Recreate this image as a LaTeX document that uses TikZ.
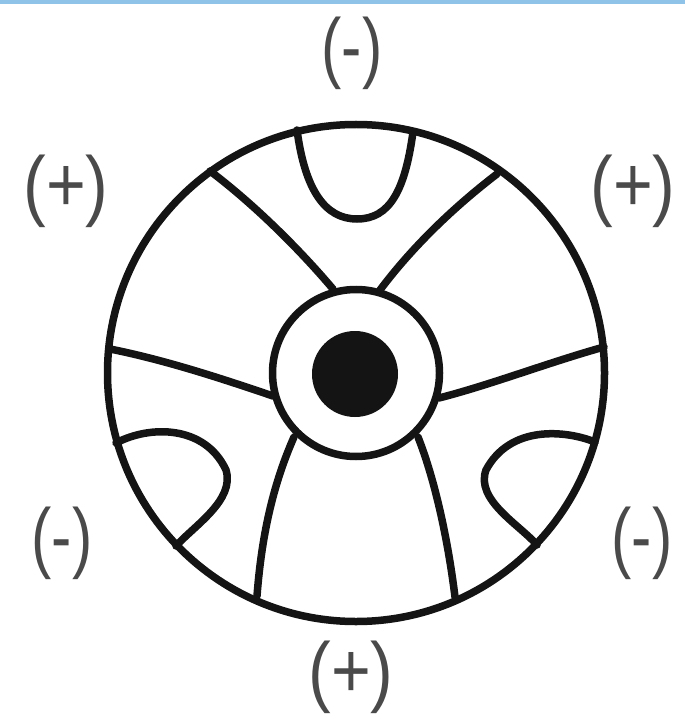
\documentclass[tikz,border=0pt]{standalone}
\usepackage{fontspec}
\setmainfont{Liberation Sans}
\usepackage{xcolor}
\usetikzlibrary{calc,positioning}
\definecolor{strip}{HTML}{8FC4E8}
\definecolor{ink}{HTML}{141414}
\definecolor{signgray}{HTML}{4A4A4A}
\tikzset{
  wire/.style={line width=7.5pt, draw=ink, line cap=round},
  signlabel/.style={text=signgray, font=\fontsize{78}{78}\selectfont, inner sep=0pt, xscale=0.78, transform shape},
  pluslabel/.style={signlabel, xscale=1.12},
  pt/.style={inner sep=0pt, outer sep=0pt}
}
\begin{document}
\begin{tikzpicture}[x=1pt,y=-1pt]
  \useasboundingbox (0,0) rectangle (685,719);
  \fill [strip] (0,0) rectangle (685,4);
  % rim and hub
  \node [circle, draw=ink, line width=7.5pt, minimum size=497pt, pt] at (356,373) (rim) {};
  \node [circle, draw=ink, line width=7.5pt, minimum size=167pt, pt] at (356,373) (hub) {};
  \node [circle, fill=ink, minimum size=86pt, pt] at (355,374) (core) {};
  % spokes
  \coordinate (a1) at (210,171);
  \coordinate (a2) at (333,289);
  \coordinate (b1) at (497,174);
  \coordinate (b2) at (380,290);
  \coordinate (c1) at (110,349);
  \coordinate (c2) at (273,396);
  \coordinate (d1) at (604,347);
  \coordinate (d2) at (439,398);
  \coordinate (e1) at (257,596);
  \coordinate (e2) at (294,437);
  \coordinate (f1) at (455,597);
  \coordinate (f2) at (418,437);
  \draw [wire] (a1) .. controls (255,205) and (300,250) .. (a2);
  \draw [wire] (b1) .. controls (450,210) and (410,250) .. (b2);
  \draw [wire] (c1) .. controls (165,360) and (220,378) .. (c2);
  \draw [wire] (d1) .. controls (550,362) and (490,385) .. (d2);
  \draw [wire] (e1) .. controls (262,530) and (275,480) .. (e2);
  \draw [wire] (f1) .. controls (448,540) and (435,480) .. (f2);
  % loops on the rim
  \coordinate (g1) at (297,130);
  \coordinate (g2) at (413,132);
  \coordinate (h1) at (116,443);
  \coordinate (h2) at (176,546);
  \coordinate (i1) at (595,442);
  \coordinate (i2) at (537,545);
  \draw [wire] (g1) .. controls (305,190) and (325,219) .. (357,219) .. controls (390,219) and (405,190) .. (g2);
  \draw [wire] (h1) .. controls (150,425) and (205,425) .. (226,470) .. controls (235,500) and (195,525) .. (h2);
  \draw [wire] (i1) .. controls (565,430) and (510,425) .. (486,470) .. controls (475,500) and (520,525) .. (i2);
  % signs
  \node [signlabel] at (352,53) (top) {(-)};
  \node [pluslabel] at (66,191) (ul) {(+)};
  \node [pluslabel] at (633,191) (ur) {(+)};
  \node [signlabel] at (62,543) (ll) {(-)};
  \node [signlabel] at (642,543) (lr) {(-)};
  \node [pluslabel] at (351,677) (bot) {(+)};
\end{tikzpicture}
\end{document}
